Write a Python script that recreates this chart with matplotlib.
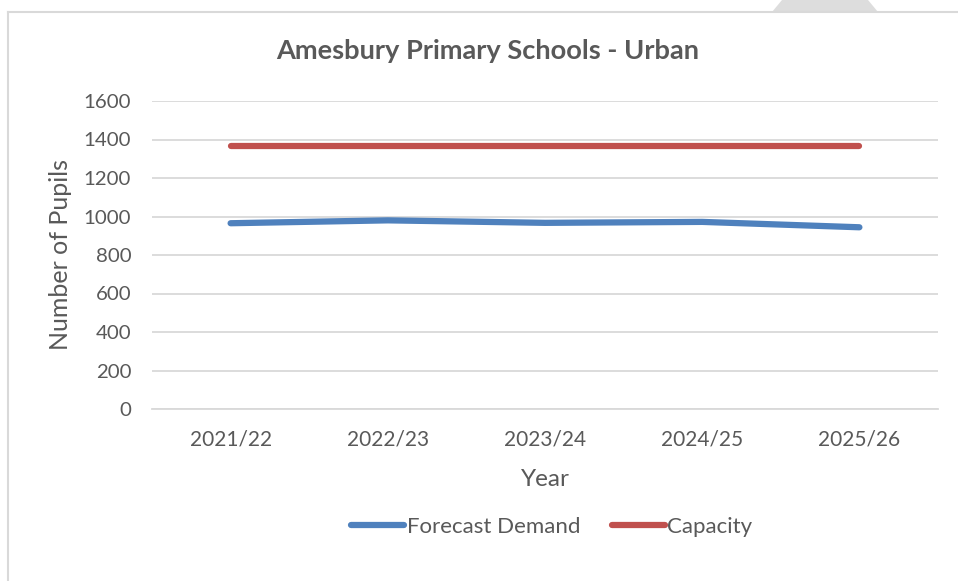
import matplotlib
matplotlib.use("Agg")
import matplotlib.pyplot as plt
from matplotlib.lines import Line2D
from matplotlib.patches import Polygon

years = ["2021/22", "2022/23", "2023/24", "2024/25", "2025/26"]
forecast_demand = [965, 980, 967, 972, 944]
capacity = [1365, 1365, 1365, 1365, 1365]
y_ticks = [0, 200, 400, 600, 800, 1000, 1200, 1400, 1600]

plt.rcParams['font.family'] = ['Lato', 'DejaVu Sans']
TXT = '#595959'
GRID = '#D9D9D9'

W, H = 958, 581
fig = plt.figure(figsize=(W / 100, H / 100), dpi=100)
ax = fig.add_axes([152 / W, 1 - 409 / H, (938 - 152) / W, (409 - 101) / H])

x = list(range(len(years)))
ax.plot(x, forecast_demand, color='#4F81BD', lw=4.5, solid_capstyle='round',
        label='Forecast Demand', zorder=3)
ax.plot(x, capacity, color='#C0504D', lw=4.5, solid_capstyle='round',
        label='Capacity', zorder=3)

ax.set_xlim(-0.5, len(years) - 0.5)
ax.set_ylim(0, 1600)
ax.set_yticks(y_ticks)
ax.set_xticks(x)
ax.set_xticklabels(years)
ax.grid(axis='y', color=GRID, lw=1.3)
ax.set_axisbelow(True)
for s in ['top', 'right', 'left']:
    ax.spines[s].set_visible(False)
ax.spines['bottom'].set_color(GRID)
ax.spines['bottom'].set_linewidth(1.3)
ax.tick_params(axis='both', length=0, colors=TXT)
ax.tick_params(axis='y', pad=15, labelsize=14.7)
ax.tick_params(axis='x', pad=15, labelsize=15)

ax.set_ylabel('Number of Pupils', fontsize=18, color=TXT)
ax.yaxis.set_label_coords((60 - 152) / 786, 0.5)
ax.yaxis.label.set_va('center')
ax.set_xlabel('Year', fontsize=17.5, color=TXT)
ax.xaxis.set_label_coords(0.5, (409 - 479) / 308)
ax.xaxis.label.set_va('center')
ax.set_title('Amesbury Primary Schools - Urban', fontsize=19.6, fontweight='bold',
             color=TXT, pad=30, x=(488 - 152) / 786)

leg = ax.legend(loc='center', bbox_to_anchor=((552 - 152) / 786, 1 - (527 - 101) / (409 - 101)),
                ncol=2, frameon=False, fontsize=16, labelcolor=TXT,
                handlelength=2.35, handletextpad=0.13, columnspacing=1.45)

# outer frame
fig.add_artist(Line2D([8 / W, 8 / W], [0, 1 - 12 / H], color=GRID, lw=1.5,
                      transform=fig.transFigure))
fig.add_artist(Line2D([8 / W, 1], [1 - 12 / H, 1 - 12 / H], color=GRID, lw=1.5,
                      transform=fig.transFigure))
fig.add_artist(Polygon([[772 / W, 1 - 12 / H], [878 / W, 1 - 12 / H],
                        [868 / W, 1], [782 / W, 1]], closed=True,
                       facecolor='#DDDDDD', edgecolor='none',
                       transform=fig.transFigure))

fig.savefig('out.png', dpi=100)
